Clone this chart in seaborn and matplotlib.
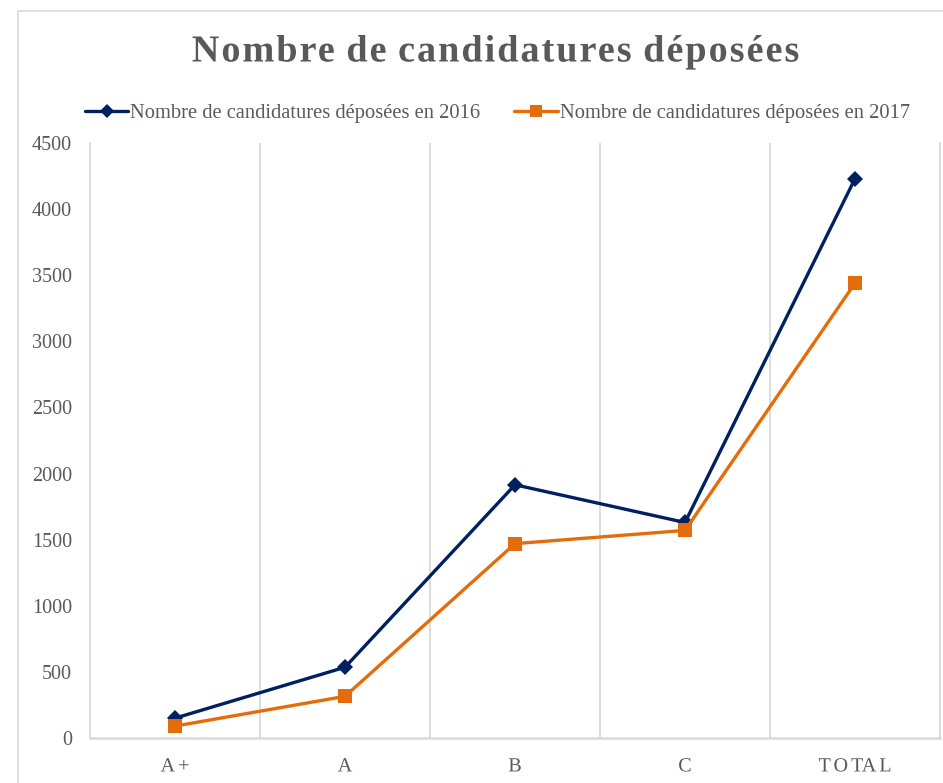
import numpy as np
import pandas as pd
import matplotlib
matplotlib.use("Agg")
import matplotlib.pyplot as plt
import seaborn as sns
from matplotlib.patheffects import AbstractPathEffect
from matplotlib.path import Path
from matplotlib.transforms import IdentityTransform
from matplotlib.lines import Line2D
from matplotlib.patches import Rectangle

# ---------------- data ----------------
categories = ["A+", "A", "B", "C", "TOTAL"]
values_2016 = [150, 535, 1915, 1630, 4230]
values_2017 = [90, 315, 1470, 1570, 3440]
series_2016 = "Nombre de candidatures déposées en 2016"
series_2017 = "Nombre de candidatures déposées en 2017"
title_text = "Nombre de candidatures déposées"
y_ticks = [0, 500, 1000, 1500, 2000, 2500, 3000, 3500, 4000, 4500]

df = pd.DataFrame({
    "Catégorie": categories * 2,
    "Valeur": values_2016 + values_2017,
    "Série": [series_2016] * len(categories) + [series_2017] * len(categories),
})

NAVY = "#002060"
ORANGE = "#E46C0A"
GREY_TXT = "#595959"
GRID = "#D9D9D9"


class LetterSpacing(AbstractPathEffect):
    """Draw text as path, adding extra spacing (pixels) between glyphs."""

    def __init__(self, spacing_px, align="center"):
        super().__init__()
        self.spacing = spacing_px
        self.align = align

    def draw_path(self, renderer, gc, tpath, affine, rgbFace=None):
        codes = tpath.codes
        if codes is None or len(tpath.vertices) == 0:
            renderer.draw_path(gc, tpath, affine, rgbFace)
            return
        verts = affine.transform(tpath.vertices)
        starts = list(np.where(codes == Path.MOVETO)[0])
        if not starts or starts[0] != 0:
            starts = [0] + starts
        ends = starts[1:] + [len(codes)]
        segs = []
        for s, e in zip(starts, ends):
            m = (codes[s:e] != Path.CLOSEPOLY) & (codes[s:e] != Path.STOP)
            xs = verts[s:e, 0][m]
            if len(xs) == 0:
                xs = verts[s:e, 0]
            segs.append((xs.min(), xs.max(), s, e))
        order = sorted(range(len(segs)), key=lambda i: segs[i][0])
        cluster = [0] * len(segs)
        c = -1
        cur_max = -np.inf
        for i in order:
            mn, mx = segs[i][0], segs[i][1]
            if mn > cur_max - 1.0:
                c += 1
                cur_max = mx
            else:
                cur_max = max(cur_max, mx)
            cluster[i] = c
        n = c + 1
        frac = {"center": 0.5, "left": 0.0, "right": 1.0}[self.align]
        new = verts.copy()
        for i, (mn, mx, s, e) in enumerate(segs):
            new[s:e, 0] += cluster[i] * self.spacing - (n - 1) * self.spacing * frac
        renderer.draw_path(gc, Path(new, codes), IdentityTransform(), rgbFace)


sns.set_theme(style="white")
plt.rcParams["font.family"] = ["Liberation Serif", "DejaVu Serif"]

W, H = 943, 783
fig = plt.figure(figsize=(W / 100, H / 100), dpi=100)
fig.patch.set_facecolor("white")

# outer chart border
fig.patches.append(Rectangle((18 / W, -0.02), 1.1, (H - 11) / H + 0.02,
                             transform=fig.transFigure, fill=False,
                             edgecolor=GRID, linewidth=1.2))

left, right, top, bottom = 90, 940, 143, 738
ax = fig.add_axes([left / W, (H - bottom) / H, (right - left) / W, (bottom - top) / H])

sns.lineplot(data=df[df["Série"] == series_2016], x="Catégorie", y="Valeur",
             color=NAVY, linewidth=2.4, marker="D", markersize=8.2,
             markeredgewidth=0, sort=False, ax=ax, legend=False)
sns.lineplot(data=df[df["Série"] == series_2017], x="Catégorie", y="Valeur",
             color=ORANGE, linewidth=2.4, marker="s", markersize=9.5,
             markeredgewidth=0, sort=False, ax=ax, legend=False)

ax.set_xlim(-0.5, len(categories) - 0.5)
ax.set_ylim(0, 4500)
ax.set_yticks(y_ticks)
ax.set_yticklabels([str(v) for v in y_ticks])
ax.set_xticks(range(len(categories)))
ax.set_xticklabels(categories)
ax.set_xticks(np.arange(0.5, len(categories) - 0.5, 1), minor=True)
ax.grid(False)
ax.grid(True, which="minor", axis="x", color=GRID, linewidth=1.3)
ax.set_xlabel("")
ax.set_ylabel("")
for side in ["left", "right"]:
    ax.spines[side].set_visible(True)
    ax.spines[side].set_color(GRID)
    ax.spines[side].set_linewidth(1.3)
ax.spines["top"].set_visible(False)
ax.spines["bottom"].set_color(GRID)
ax.spines["bottom"].set_linewidth(1.8)
ax.tick_params(axis="both", which="both", length=0)
ax.tick_params(axis="y", labelsize=14.5, labelcolor=GREY_TXT, pad=13)
ax.tick_params(axis="x", labelsize=14.5, labelcolor=GREY_TXT, pad=14)
for lab in ax.get_xticklabels():
    lab.set_path_effects([LetterSpacing(3.0, "center")])

# title
fig.text(495.5 / W, (H - 61.5) / H, title_text, ha="center", va="baseline",
         fontsize=27.5, fontweight="bold", color=GREY_TXT,
         path_effects=[LetterSpacing(2.0, "center")])

# legend
handles = [
    Line2D([], [], color=NAVY, linewidth=2.4, marker="D", markersize=7.0, markeredgewidth=0),
    Line2D([], [], color=ORANGE, linewidth=2.4, marker="s", markersize=8.5, markeredgewidth=0),
]
leg = fig.legend(handles, [series_2016, series_2017], loc="center",
                 bbox_to_anchor=(497.5 / W, (H - 113) / H), ncol=2, frameon=False,
                 fontsize=14.8, handlelength=2.1, handletextpad=0.1,
                 columnspacing=1.65, borderpad=0, borderaxespad=0)
for t in leg.get_texts():
    t.set_color(GREY_TXT)

fig.savefig("out.png", dpi=100, facecolor="white")
